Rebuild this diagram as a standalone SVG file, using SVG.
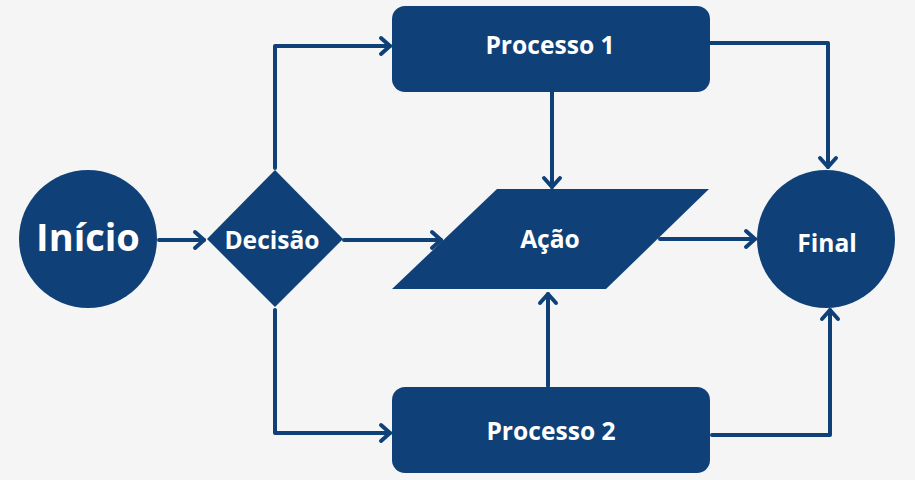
<svg xmlns="http://www.w3.org/2000/svg" width="915" height="480" viewBox="0 0 915 480">
<defs>
<marker id="arr" markerUnits="userSpaceOnUse" markerWidth="30" markerHeight="30" viewBox="-15 -15 30 30" refX="0" refY="0" orient="auto" overflow="visible">
<path d="M-9,-8 L0,0 L-9,8" fill="none" stroke="#0f4178" stroke-width="4" stroke-linecap="round" stroke-linejoin="round"/>
</marker>
</defs>
<style>
.shape{fill:#0f4178}
.lbl{fill:#ffffff;font-family:"Open Sans","Noto Sans","Liberation Sans",sans-serif;font-weight:700;font-size:24.6px;text-anchor:middle}
.con{fill:none;stroke:#0f4178;stroke-width:4;stroke-linecap:round;stroke-linejoin:round;marker-end:url(#arr)}
</style>
<rect width="915" height="480" fill="#f5f5f5"/>
<g id="connectors">
<path class="con" d="M159,240 L204,240"/>
<path class="con" d="M344,240 L441,240"/>
<path class="con" d="M660,239 L755,239"/>
<path class="con" d="M275,168 L275,46 L390,46"/>
<path class="con" d="M275,310 L275,433 L390,433"/>
<path class="con" d="M552,92 L552,187"/>
<path class="con" d="M548,386 L548,294"/>
<path class="con" d="M710,43 L828,43 L828,167"/>
<path class="con" d="M712,435 L830,435 L830,310"/>
</g>
<g id="inicio">
<circle class="shape" cx="88" cy="239" r="69"/>
<text class="lbl" x="88" y="251" style="font-size:38px">Início</text>
</g>
<g id="decisao">
<polygon class="shape" points="275,170 343,239 275,307 207,239"/>
<text class="lbl" x="272" y="249">Decisão</text>
</g>
<g id="processo1">
<rect class="shape" x="392" y="6" width="318" height="86" rx="13"/>
<text class="lbl" x="550" y="54">Processo 1</text>
</g>
<g id="processo2">
<rect class="shape" x="392" y="387" width="318" height="86" rx="13"/>
<text class="lbl" x="551" y="440">Processo 2</text>
</g>
<g id="acao">
<polygon class="shape" points="497,189 709,189 606,289 392,289"/>
<text class="lbl" x="550" y="248">Ação</text>
</g>
<g id="final">
<circle class="shape" cx="826" cy="239" r="69"/>
<text class="lbl" x="827" y="252">Final</text>
</g>
</svg>
